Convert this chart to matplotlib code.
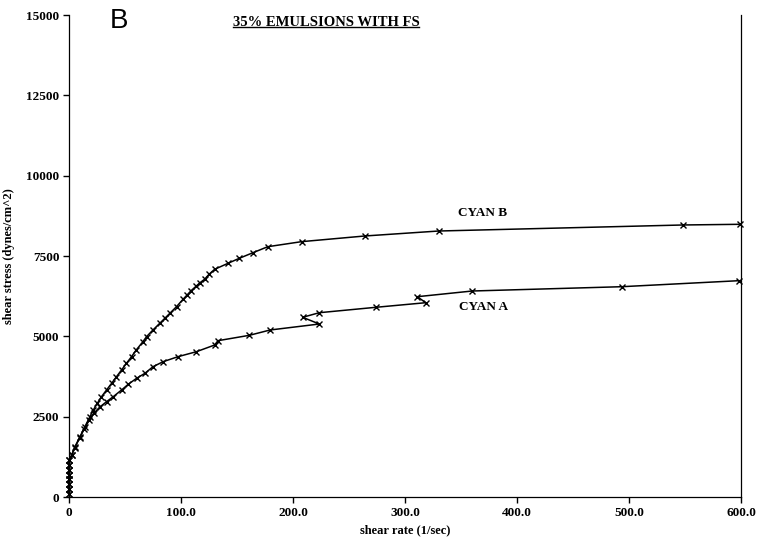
import matplotlib
matplotlib.use("Agg")
import matplotlib.pyplot as plt
from matplotlib.lines import Line2D

# CYAN B (upper curve), shear rate (1/sec) vs shear stress (dynes/cm^2)
rate_b = [0, 0, 0, 0, 0, 0, 0, 0.3, 2.4, 5.3, 9.8, 14.2, 18.7, 21.7, 25.3, 29, 33.5,
          38, 42.4, 46.9, 51.3, 55.8, 60, 66, 69.2, 75, 81, 85.5, 90, 96, 101.8,
          105.5, 109, 113.7, 117, 121, 125, 130, 142, 152, 164, 177.5, 207.7,
          264, 330, 548.5, 599]
stress_b = [100, 250, 400, 550, 700, 850, 1000, 1150, 1307, 1566, 1877, 2190, 2500,
            2708, 2916, 3122, 3330, 3537, 3744, 3953, 4160, 4367, 4575, 4834, 4989,
            5200, 5405, 5560, 5716, 5924, 6153, 6290, 6421, 6567, 6670, 6775, 6930,
            7086, 7273, 7428, 7600, 7790, 7947, 8123, 8278, 8466, 8487]

# CYAN A (lower curve)
rate_a = [0, 0, 0, 0, 0, 0, 0, 0.3, 2.4, 5.3, 9.5, 13.8, 18, 22, 27.5, 33.5, 39.5,
          46.9, 52.8, 60.3, 67.7, 75, 84, 97.3, 113.7, 130, 133, 161, 179.6, 223.5,
          208.6, 223.5, 274, 318.5, 311, 360, 493.6, 598]
stress_a = [100, 250, 400, 550, 700, 850, 1000, 1150, 1300, 1540, 1840, 2130, 2390,
            2600, 2800, 2966, 3122, 3330, 3506, 3693, 3848, 4055, 4211, 4367, 4522,
            4730, 4865, 5032, 5198, 5384, 5593, 5736, 5904, 6047, 6234, 6411, 6545,
            6732]

x_ticks = [0, 100, 200, 300, 400, 500, 600]
x_labels = ["0", "100.0", "200.0", "300.0", "400.0", "500.0", "600.0"]
y_ticks = [0, 2500, 5000, 7500, 10000, 12500, 15000]

serif = "Liberation Serif"

fig = plt.figure(figsize=(7.6, 5.4), dpi=100)
ax = fig.add_axes([0.0908, 0.0796, 0.8842, 0.8926])

for xs, ys in [(rate_b, stress_b), (rate_a, stress_a)]:
    ax.plot(xs, ys, color="black", lw=1.1, marker="x", ms=4, mew=1.0,
            clip_on=False)

ax.set_xlim(0, 600)
ax.set_ylim(0, 15000)
ax.set_xticks(x_ticks)
ax.set_xticklabels(x_labels)
ax.set_yticks(y_ticks)
ax.set_yticklabels([str(v) for v in y_ticks])
ax.tick_params(direction="out", length=4, width=1, pad=3)
for lab in ax.get_xticklabels():
    lab.set_fontfamily(serif)
    lab.set_fontweight("bold")
    lab.set_fontsize(9.5)
for lab in ax.get_yticklabels():
    lab.set_fontfamily(serif)
    lab.set_fontweight("bold")
    lab.set_fontsize(9.5)

ax.spines["top"].set_visible(False)
for s in ["left", "bottom", "right"]:
    ax.spines[s].set_linewidth(0.9)

ax.set_xlabel("shear rate (1/sec)", fontfamily=serif, fontweight="bold",
              fontsize=9, labelpad=4)
ax.set_ylabel("shear stress (dynes/cm^2)", fontfamily=serif, fontweight="bold",
              fontsize=9, labelpad=8)

ax.text(369, 8840, "CYAN B", fontfamily=serif, fontweight="bold", fontsize=9.5,
        ha="center", va="center")
ax.text(370, 5900, "CYAN A", fontfamily=serif, fontweight="bold", fontsize=9.5,
        ha="center", va="center")

fig.text(119 / 760, 1 - 21 / 540, "B", fontfamily="Liberation Sans",
         fontsize=20, ha="center", va="center")
title = fig.text(326 / 760, 1 - 22 / 540, "35% EMULSIONS WITH FS", fontfamily=serif,
                 fontweight="bold", fontsize=10.5, ha="center", va="center")

# underline the title
fig.canvas.draw()
bb = title.get_window_extent().transformed(fig.transFigure.inverted())
fig.add_artist(Line2D([bb.x0, bb.x1], [bb.y0 + 0.002, bb.y0 + 0.002],
                      transform=fig.transFigure, color="black", lw=1))

fig.savefig("out.png", dpi=100)
